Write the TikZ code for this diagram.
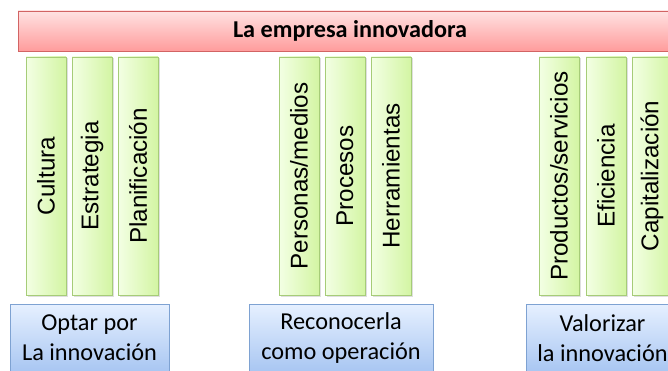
\documentclass[tikz,border=0pt]{standalone}
\usepackage{fontspec}
\usepackage{graphicx}
\setmainfont{Carlito}
\newfontfamily\arialfont{Liberation Sans}
\usetikzlibrary{positioning, shadows}

\definecolor{redtop}{HTML}{FFE2E2}
\definecolor{redbot}{HTML}{FF9C9C}
\definecolor{redline}{HTML}{D26464}
\definecolor{greenleft}{HTML}{F3FFE4}
\definecolor{greenright}{HTML}{D3F5A3}
\definecolor{greenline}{HTML}{A6CC78}
\definecolor{bluetop}{HTML}{E6F0FF}
\definecolor{bluebot}{HTML}{A8C6F2}
\definecolor{blueline}{HTML}{7EA2D2}

\begin{document}
\begin{tikzpicture}[x=1pt, y=1pt,
    softshadow/.style={drop shadow={shadow xshift=1.5pt, shadow yshift=-1.5pt, opacity=0.25}},
    titlebar/.style={draw=redline, top color=redtop, bottom color=redbot, softshadow,
        minimum width=664pt, minimum height=40pt, inner sep=0pt, outer sep=0pt,
        font=\bfseries\fontsize{24.2}{29}\selectfont},
    pillar/.style={draw=greenline, left color=greenleft, right color=greenright, softshadow,
        minimum width=40pt, minimum height=238pt, inner sep=0pt, outer sep=0pt,
        font=\arialfont\fontsize{24.2}{29}\selectfont},
    goalbox/.style={draw=blueline, top color=bluetop, bottom color=bluebot,
        minimum height=68pt, inner sep=0pt, outer sep=0pt, align=center,
        font=\fontsize{24.3}{30}\selectfont}]
\useasboundingbox (0,0) rectangle (668,370);

% Top bar
\node[titlebar] (empresa) at (350,339) {La empresa innovadora};

% First group
\node[pillar] (cultura) at (46,194) {\rotatebox{90}{Cultura}};
\node[pillar, right=6pt of cultura] (estrategia) {\rotatebox{90}{Estrategia}};
\node[pillar, right=6pt of estrategia] (planificacion) {\rotatebox{90}{Planificación}};

% Second group
\node[pillar] (personas) at (299,194) {\rotatebox{90}{Personas/medios}};
\node[pillar, right=6pt of personas] (procesos) {\rotatebox{90}{Procesos}};
\node[pillar, right=6pt of procesos] (herramientas) {\rotatebox{90}{Herramientas}};

% Third group
\node[pillar] (productos) at (559,194) {\rotatebox{90}{Productos/servicios}};
\node[pillar, right=7pt of productos] (eficiencia) {\rotatebox{90}{Eficiencia}};
\node[pillar, right=6pt of eficiencia] (capitalizacion) {\rotatebox{90}{Capitalización}};

% Bottom boxes
\node[goalbox, minimum width=159pt] (optar) at (89.5,32) {Optar por\\La innovación};
\node[goalbox, minimum width=184pt] (reconocer) at (341,32) {Reconocerla\\como operación};
\node[goalbox, minimum width=153pt] (valorizar) at (602.5,32) {Valorizar\\la innovación};
\end{tikzpicture}
\end{document}
